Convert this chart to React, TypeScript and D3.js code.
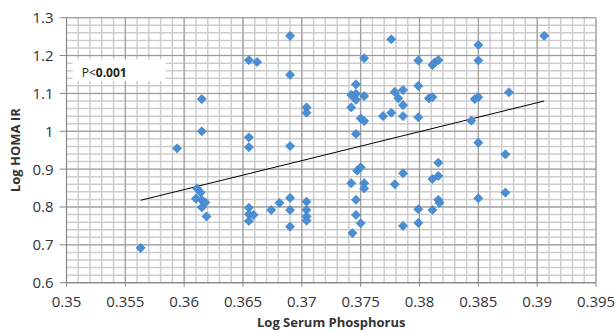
import React from "react";
import * as d3 from "d3";

// Log Serum Phosphorus vs Log HOMA IR
const phosphorus = [
  0.3563, 0.3594, 0.3615, 0.3615, 0.3611, 0.3614, 0.361, 0.3615, 0.3618, 0.3615,
  0.3619, 0.3655, 0.3662, 0.3655, 0.3655, 0.3655, 0.3655, 0.3659, 0.3655, 0.3674,
  0.3681, 0.369, 0.369, 0.369, 0.369, 0.369, 0.369, 0.3704, 0.3704, 0.3704,
  0.3704, 0.3704, 0.3704, 0.3746, 0.3742, 0.3746, 0.3753, 0.3746, 0.3742, 0.375,
  0.3753, 0.3746, 0.3753, 0.3747, 0.375, 0.3742, 0.3753, 0.3753, 0.3746, 0.3746,
  0.375, 0.3743, 0.3776, 0.3769, 0.3776, 0.3779, 0.3786, 0.3782, 0.3786, 0.3786,
  0.3779, 0.3786, 0.3786, 0.3799, 0.3799, 0.3799, 0.3799, 0.3799, 0.3811, 0.3813,
  0.3816, 0.3808, 0.3811, 0.3811, 0.3811, 0.3816, 0.3816, 0.3816, 0.3817, 0.385,
  0.385, 0.385, 0.3847, 0.3844, 0.385, 0.385, 0.3873, 0.3873, 0.3876, 0.3906,
];
const homaIR = [
  0.692, 0.955, 1.085, 1.0, 0.849, 0.838, 0.822, 0.818, 0.812, 0.799,
  0.775, 1.188, 1.183, 0.984, 0.958, 0.798, 0.781, 0.779, 0.763, 0.792,
  0.811, 1.252, 1.149, 0.961, 0.824, 0.792, 0.748, 1.063, 1.049, 0.814,
  0.792, 0.775, 0.764, 1.124, 1.096, 1.099, 1.093, 1.083, 1.063, 1.034,
  1.027, 0.993, 1.193, 0.896, 0.905, 0.863, 0.863, 0.849, 0.819, 0.779,
  0.757, 0.731, 1.243, 1.04, 1.049, 1.104, 1.109, 1.087, 1.069, 1.04,
  0.86, 0.889, 0.75, 1.187, 1.12, 1.037, 0.794, 0.758, 1.175, 1.182,
  1.188, 1.087, 1.09, 0.874, 0.792, 0.917, 0.882, 0.819, 0.811, 1.228,
  1.187, 1.09, 1.085, 1.028, 0.97, 0.823, 0.939, 0.838, 1.103, 1.252,
];
// linear trendline end points
const trendX = [0.3563, 0.3906];
const trendY = [0.8177, 1.08];

const xTicks = [0.35, 0.355, 0.36, 0.365, 0.37, 0.375, 0.38, 0.385, 0.39, 0.395];
const yTicks = [0.6, 0.7, 0.8, 0.9, 1, 1.1, 1.2, 1.3];

const W = 616;
const H = 333;
const margin = { top: 17.7, right: 20, bottom: 50.3, left: 66.5 };
const font = "'Open Sans', sans-serif";

const App = () => {
  const x = d3
    .scaleLinear()
    .domain([0.35, 0.395])
    .range([margin.left, W - margin.right]);
  const y = d3
    .scaleLinear()
    .domain([0.6, 1.3])
    .range([H - margin.bottom, margin.top]);

  const [x0, x1] = x.range();
  const [y0, y1] = y.range();

  // minor grid: 5 steps between major ticks
  const xMinor = d3.range(0, 46).map((i) => 0.35 + i * 0.001);
  const yMinor = d3.range(0, 36).map((i) => 0.6 + i * 0.02);

  const diamond = d3.symbol(d3.symbolSquare, 42);

  const points = phosphorus.map((p, i) => ({ p, h: homaIR[i] }));

  return (
    <svg
      width={W}
      height={H}
      style={{ position: "absolute", left: 0, top: 0, background: "#fff" }}
    >
      {/* minor gridlines */}
      <g stroke="#cdcdcd" strokeWidth={1.5}>
        {xMinor.map((v, i) => (
          <line key={"xm" + i} x1={x(v)} x2={x(v)} y1={y0} y2={y1} />
        ))}
        {yMinor.map((v, i) => (
          <line key={"ym" + i} x1={x0} x2={x1} y1={y(v)} y2={y(v)} />
        ))}
      </g>
      {/* major gridlines */}
      <g stroke="#999" strokeWidth={1}>
        {xTicks.map((v, i) => (
          <line key={"xM" + i} x1={x(v)} x2={x(v)} y1={y0} y2={y1} />
        ))}
        {yTicks.map((v, i) => (
          <line key={"yM" + i} x1={x0} x2={x1} y1={y(v)} y2={y(v)} />
        ))}
      </g>

      {/* axes */}
      <g stroke="#868686" strokeWidth={1}>
        <line x1={x0} x2={x0} y1={y0} y2={y1} />
        <line x1={x0} x2={x1} y1={y0} y2={y0} />
        {yTicks.map((v, i) => (
          <line key={"yt" + i} x1={x0 - 7} x2={x0} y1={y(v)} y2={y(v)} />
        ))}
        {xTicks.map((v, i) => (
          <line key={"xt" + i} x1={x(v)} x2={x(v)} y1={y0} y2={y0 + 4} />
        ))}
      </g>

      {/* tick labels */}
      <g fontFamily={font} fontSize={15} fill="#333">
        {yTicks.map((v, i) => (
          <text key={"yl" + i} x={x0 - 13} y={y(v)} dy="0.36em" textAnchor="end">
            {d3.format("")(v)}
          </text>
        ))}
        {xTicks.map((v, i) => (
          <text key={"xl" + i} x={x(v)} y={y0 + 24} textAnchor="middle">
            {d3.format("")(v)}
          </text>
        ))}
      </g>

      {/* axis titles */}
      <text
        x={(x0 + x1) / 2}
        y={327}
        textAnchor="middle"
        fontFamily={font}
        fontSize={13}
        fontWeight="bold"
        fill="#333"
      >
        Log Serum Phosphorus
      </text>
      <text
        transform={`translate(20,${(y0 + y1) / 2}) rotate(-90)`}
        textAnchor="middle"
        fontFamily={font}
        fontSize={13}
        fontWeight="bold"
        fill="#333"
      >
        Log HOMA IR
      </text>

      {/* P value label */}
      <rect x={72.7} y={59.3} width={93} height={21.7} fill="#fff" />
      <text x={81.7} y={76.5} fontFamily={font} fontSize={12} fill="#222">
        P&lt;<tspan fontWeight="bold">0.001</tspan>
      </text>

      {/* trendline */}
      <line
        x1={x(trendX[0])}
        y1={y(trendY[0])}
        x2={x(trendX[1])}
        y2={y(trendY[1])}
        stroke="#000"
        strokeWidth={1}
      />

      {/* points */}
      <g>
        {points.map((d, i) => (
          <path
            key={i}
            d={diamond() as string}
            transform={`translate(${x(d.p)},${y(d.h)}) rotate(45)`}
            fill="#4a8fd4"
            stroke="#3b7dc2"
            strokeWidth={0.6}
          />
        ))}
      </g>
    </svg>
  );
};

export default App;
